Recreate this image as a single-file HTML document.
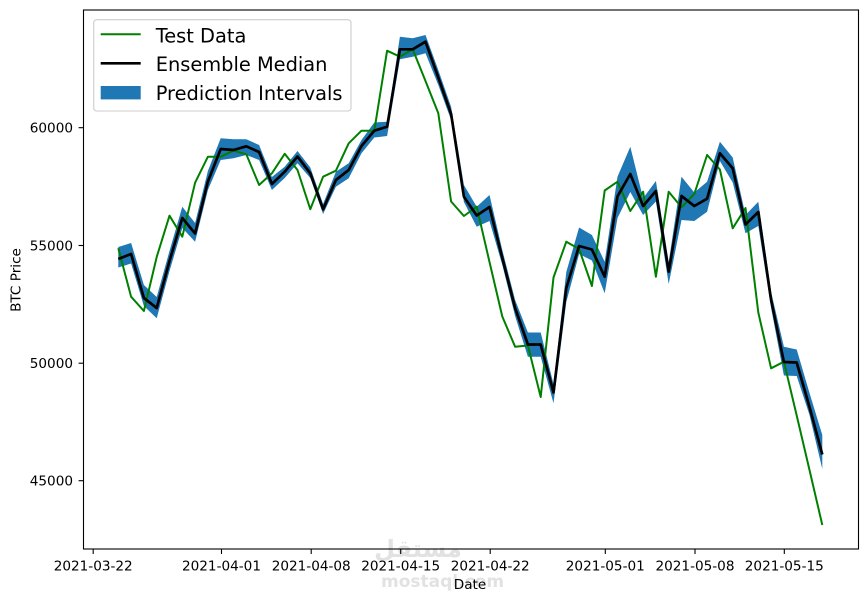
<!DOCTYPE html>
<html><head><meta charset="utf-8"><style>
html,body{margin:0;padding:0;background:#fff;}
svg{display:block;font-family:"DejaVu Sans","Liberation Sans",sans-serif;}
</style></head><body>
<svg width="868" height="602" viewBox="0 0 868 602" xmlns="http://www.w3.org/2000/svg">
<rect x="0" y="0" width="868" height="602" fill="#fff"/>
<!-- watermark -->
<g fill="#e2e2e2">
<text x="418" y="557" font-size="24" font-weight="bold" text-anchor="middle" font-family="DejaVu Sans, sans-serif">مستقل</text>
<text x="381" y="587" font-size="17" font-weight="bold">mostaql.com</text>
</g>
<!-- band -->
<polygon fill="#1f77b4" points="118.3,247 131.1,243 143.9,285 156.7,297 169.5,251 182.3,206.7 195.1,223 207.9,171 220.7,138.3 233.5,139.3 246.3,139.3 259.1,145 271.9,177 284.7,166.7 297.5,151 310.3,167.5 323.1,204 335.9,171.7 348.7,163.3 361.5,140 374.3,122.5 387.1,121.7 399.9,36.7 412.7,38.3 425.5,35 438.3,70 451.1,106.7 463.9,185 476.7,206.7 489.5,195 502.3,250 515.1,300 527.9,332.5 540.7,332.5 553.5,384 566.3,272 579.1,227.5 591.9,235 604.7,261.7 617.5,176.7 630.3,146.7 643.1,198.3 655.9,181 668.7,262 681.5,176.7 694.3,192.5 707.1,181.7 719.9,141.7 732.7,157.5 745.5,215 758.3,201.7 771.1,292 783.9,346.7 796.7,349.5 809.5,393 822.3,435 822.3,469 809.5,415 796.7,376 783.9,375.5 771.1,308 758.3,226 745.5,233.3 732.7,182.5 719.9,161 707.1,211.7 694.3,221 681.5,220 668.7,284 655.9,201.5 643.1,215 630.3,192 617.5,218 604.7,293.3 591.9,260.5 579.1,254 566.3,302 553.5,403.3 540.7,356.7 527.9,356.7 515.1,316 502.3,265 489.5,221 476.7,226.7 463.9,202 451.1,120 438.3,85 425.5,53.3 412.7,56.7 399.9,59.3 387.1,136 374.3,137.5 361.5,153.3 348.7,178.3 335.9,186.7 323.1,214 310.3,178 297.5,163.3 284.7,178 271.9,190 259.1,160 246.3,155 233.5,158.3 220.7,160 207.9,190 195.1,241.7 182.3,228 169.5,271 156.7,318.3 143.9,306 131.1,263.5 118.3,267.5"/>
<!-- test data -->
<polyline fill="none" stroke="#008000" stroke-width="2" stroke-linejoin="round" points="118.3,248.3 131.1,296.7 143.9,311 156.7,257 169.5,215.7 182.3,236.7 195.1,182.7 207.9,156.7 220.7,156.7 233.5,150.7 246.3,154.3 259.1,185 271.9,173.3 284.7,153.8 297.5,170 310.3,209.2 323.1,176.7 335.9,170.7 348.7,143.3 361.5,130.7 374.3,130.7 387.1,50.7 399.9,56.7 412.7,49.3 425.5,81 438.3,113.3 451.1,201.5 463.9,216 476.7,206.7 489.5,262 502.3,316.5 515.1,346.7 527.9,345.5 540.7,397 553.5,277.5 566.3,241.7 579.1,249 591.9,286 604.7,190.5 617.5,181.7 630.3,211 643.1,191.7 655.9,276.7 668.7,191.7 681.5,207.3 694.3,194 707.1,155 719.9,169.5 732.7,228.3 745.5,208 758.3,312.5 771.1,368.3 783.9,361.7 796.7,415.5 809.5,470 822.3,525"/>
<!-- median -->
<polyline fill="none" stroke="#000" stroke-width="2.7" stroke-linejoin="round" points="118.3,259 131.1,254 143.9,298 156.7,308 169.5,261 182.3,218 195.1,233.5 207.9,181.5 220.7,149 233.5,150 246.3,146.3 259.1,152 271.9,184 284.7,171.7 297.5,156.5 310.3,173.3 323.1,209.3 335.9,180 348.7,170 361.5,146 374.3,130.7 387.1,126.7 399.9,49.3 412.7,49.3 425.5,41.7 438.3,77.5 451.1,114 463.9,196.7 476.7,215.5 489.5,207 502.3,258 515.1,308 527.9,344.5 540.7,344.5 553.5,392.5 566.3,288 579.1,246 591.9,249.5 604.7,276.7 617.5,196.3 630.3,174 643.1,206 655.9,191 668.7,271.7 681.5,196 694.3,206 707.1,198.7 719.9,153.3 732.7,168.3 745.5,224.5 758.3,212 771.1,300 783.9,362 796.7,362.5 809.5,407 822.3,454.5"/>
<!-- axes frame -->
<rect x="83.5" y="10" width="775" height="539" fill="none" stroke="#000" stroke-width="1.1"/>
<!-- y ticks -->
<g stroke="#000" stroke-width="1.1">
<line x1="78.6" y1="127.7" x2="83.5" y2="127.7"/>
<line x1="78.6" y1="245.5" x2="83.5" y2="245.5"/>
<line x1="78.6" y1="363.2" x2="83.5" y2="363.2"/>
<line x1="78.6" y1="480.7" x2="83.5" y2="480.7"/>
</g>
<g font-size="13.6" text-anchor="end" fill="#000">
<text x="73" y="132.6">60000</text>
<text x="73" y="250.4">55000</text>
<text x="73" y="368.1">50000</text>
<text x="73" y="485.6">45000</text>
</g>
<!-- x ticks -->
<g stroke="#000" stroke-width="1.1">
<line x1="93.2" y1="549" x2="93.2" y2="554"/>
<line x1="221.5" y1="549" x2="221.5" y2="554"/>
<line x1="311.2" y1="549" x2="311.2" y2="554"/>
<line x1="400.7" y1="549" x2="400.7" y2="554"/>
<line x1="490.2" y1="549" x2="490.2" y2="554"/>
<line x1="605.3" y1="549" x2="605.3" y2="554"/>
<line x1="695" y1="549" x2="695" y2="554"/>
<line x1="784.3" y1="549" x2="784.3" y2="554"/>
</g>
<g font-size="13.6" text-anchor="middle" fill="#000">
<text x="93.2" y="570.5">2021-03-22</text>
<text x="221.5" y="570.5">2021-04-01</text>
<text x="311.2" y="570.5">2021-04-08</text>
<text x="400.7" y="570.5">2021-04-15</text>
<text x="490.2" y="570.5">2021-04-22</text>
<text x="605.3" y="570.5">2021-05-01</text>
<text x="695" y="570.5">2021-05-08</text>
<text x="784.3" y="570.5">2021-05-15</text>
</g>
<text x="470" y="589" font-size="13.6" text-anchor="middle" fill="#000">Date</text>
<text transform="translate(20.7,280) rotate(-90)" font-size="13.6" text-anchor="middle" fill="#000">BTC Price</text>
<!-- legend -->
<rect x="93.7" y="19.7" width="257.3" height="91.3" rx="3" ry="3" fill="#fff" fill-opacity="0.8" stroke="#cccccc" stroke-width="1.1"/>
<line x1="100.7" y1="34.3" x2="140.7" y2="34.3" stroke="#008000" stroke-width="2"/>
<line x1="100.7" y1="63.3" x2="140.7" y2="63.3" stroke="#000" stroke-width="2.7"/>
<rect x="100.7" y="86" width="40" height="13.4" fill="#1f77b4"/>
<g font-size="19.4" fill="#000">
<text x="155.7" y="42.3">Test Data</text>
<text x="155.7" y="71">Ensemble Median</text>
<text x="155.7" y="100">Prediction Intervals</text>
</g>
</svg>
</body></html>
